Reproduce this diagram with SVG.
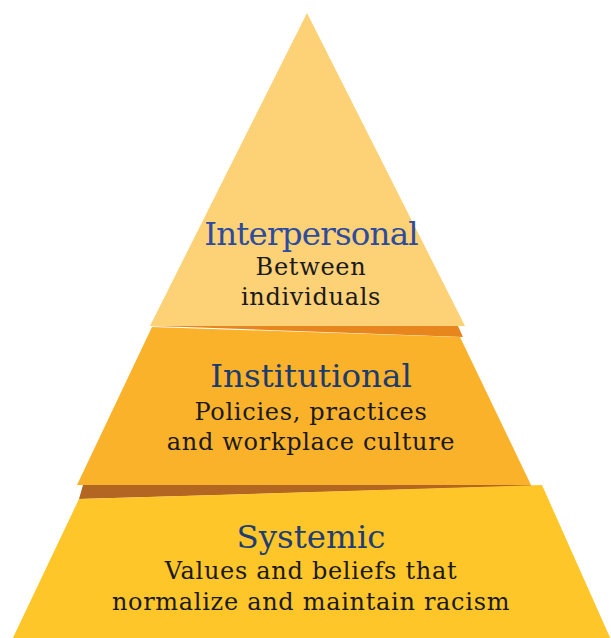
<svg xmlns="http://www.w3.org/2000/svg" width="611" height="638" viewBox="0 0 611 638">
<style>
.t{font-family:"DejaVu Serif","Liberation Serif",serif;text-anchor:middle}
.h{font-size:32.5px}
.s{font-size:24px;letter-spacing:0.7px;fill:#1a1a1a}
</style>
<rect width="611" height="638" fill="#ffffff"/>
<g id="systemic">
<polygon points="83,485 531,485 531,486 79,499" fill="#b36522"/>
<polygon points="79,499 542,485 612,642 11,642" fill="#ffc629"/>
<text class="t h" x="311" y="548" fill="#1f3f73">Systemic</text>
<text class="t s" x="311" y="579">Values and beliefs that</text>
<text class="t s" x="311" y="610">normalize and maintain racism</text>
</g>
<g id="institutional">
<polygon points="150,326 458,326 463,337 185,327" fill="#e8861e"/>
<polygon points="152,327 460,337 531,485 77,485" fill="#fbb22b"/>
<text class="t h" x="311" y="387" fill="#1d3c6e">Institutional</text>
<text class="t s" x="311" y="420">Policies, practices</text>
<text class="t s" x="311" y="450">and workplace culture</text>
</g>
<g id="interpersonal">
<polygon points="307,13 465,326 150,326" fill="#fdd175"/>
<text class="t h" x="311" y="245" fill="#2e4c9e" letter-spacing="-0.8px">Interpersonal</text>
<text class="t s" x="311" y="275">Between</text>
<text class="t s" x="311" y="305">individuals</text>
</g>
<g id="connectors"/>
</svg>
